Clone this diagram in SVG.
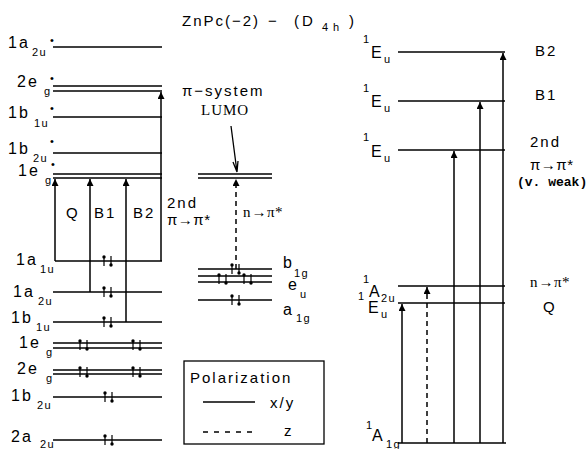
<svg xmlns="http://www.w3.org/2000/svg" width="588" height="449" viewBox="0 0 588 449">
<defs>
<style>
.lv{stroke:#000;stroke-width:1.3;fill:none}
.ar{stroke:#000;stroke-width:1.5;fill:none}
.da{stroke:#000;stroke-width:1.5;fill:none;stroke-dasharray:5 4}
text{font-family:"Liberation Sans","DejaVu Sans",sans-serif;fill:#000}
.m{font-size:16px;letter-spacing:2px}
.s{font-size:11px;letter-spacing:1.5px}
.d{font-size:11px}
.lb{font-size:15px;letter-spacing:2px}
.pp{font-size:15px;letter-spacing:0.5px}
.sf{font-family:"Liberation Serif",serif;font-size:15px;letter-spacing:1px}
.vw{font-family:"Liberation Mono",monospace;font-size:13px;font-weight:bold}
</style>
<marker id="ah" markerWidth="7" markerHeight="7" viewBox="0 0 7 7" refX="7" refY="3.5" orient="auto" markerUnits="userSpaceOnUse">
<path d="M0,0 L7,3.5 L0,7 z" fill="#000"/>
</marker>
<g id="ep">
<path d="M0,5 V-4 M7,-5 V4" stroke="#000" stroke-width="1.2" fill="none"/>
<circle cx="0" cy="-4" r="1.7" fill="#000"/>
<circle cx="7" cy="4" r="1.7" fill="#000"/>
</g>
</defs>
<rect width="588" height="449" fill="#fff"/>

<text y="26" style="font-size:15px"><tspan x="182" style="letter-spacing:2px">ZnPc(−2)</tspan><tspan x="268">−</tspan><tspan x="294" style="letter-spacing:3px">(D</tspan><tspan x="322" y="31" style="font-size:11px;letter-spacing:5px">4h</tspan><tspan x="349" y="26">)</tspan></text>

<g id="L-1a2u-star">
<line class="lv" x1="53" y1="47" x2="162" y2="47"/>
<text x="8" y="48" class="m">1a<tspan class="s" x="32" y="56">2u</tspan><tspan class="d" x="50" y="44">•</tspan></text>
</g>
<g id="L-2eg-star">
<line class="lv" x1="53" y1="86" x2="162" y2="86"/>
<line class="lv" x1="53" y1="91" x2="162" y2="91"/>
<text x="17" y="87" class="m">2e<tspan class="s" x="44" y="95">g</tspan><tspan class="d" x="50" y="82">•</tspan></text>
</g>
<g id="L-1b1u-star">
<line class="lv" x1="53" y1="117" x2="162" y2="117"/>
<text x="8" y="118" class="m">1b<tspan class="s" x="34" y="127">1u</tspan><tspan class="d" x="50" y="112">•</tspan></text>
</g>
<g id="L-1b2u-star">
<line class="lv" x1="53" y1="153" x2="162" y2="153"/>
<text x="8" y="154" class="m">1b<tspan class="s" x="33" y="162">2u</tspan><tspan class="d" x="50" y="145">•</tspan></text>
</g>
<g id="L-1eg-star">
<line class="lv" x1="53" y1="174" x2="162" y2="174"/>
<line class="lv" x1="53" y1="178" x2="162" y2="178"/>
<text x="18" y="176" class="m">1e<tspan class="s" x="45" y="184">g</tspan><tspan class="d" x="51" y="168">•</tspan></text>
</g>
<g id="L-1a1u">
<line class="lv" x1="55" y1="261" x2="162" y2="261"/>
<text x="16" y="265" class="m">1a<tspan class="s" x="40" y="273">1u</tspan></text>
<use href="#ep" x="104" y="261"/>
</g>
<g id="L-1a2u">
<line class="lv" x1="53" y1="292" x2="162" y2="292"/>
<text x="13" y="297" class="m">1a<tspan class="s" x="38" y="305">2u</tspan></text>
<use href="#ep" x="104" y="292"/>
</g>
<g id="L-1b1u">
<line class="lv" x1="53" y1="322" x2="162" y2="322"/>
<text x="11" y="323" class="m">1b<tspan class="s" x="36" y="331">1u</tspan></text>
<use href="#ep" x="104" y="322"/>
</g>
<g id="L-1eg">
<line class="lv" x1="53" y1="343" x2="162" y2="343"/>
<line class="lv" x1="53" y1="348" x2="162" y2="348"/>
<text x="19" y="348" class="m">1e<tspan class="s" x="46" y="356">g</tspan></text>
<use href="#ep" x="80" y="345"/>
<use href="#ep" x="133" y="345"/>
</g>
<g id="L-2eg">
<line class="lv" x1="53" y1="370" x2="162" y2="370"/>
<line class="lv" x1="53" y1="374" x2="162" y2="374"/>
<text x="17" y="374" class="m">2e<tspan class="s" x="46" y="382">g</tspan></text>
<use href="#ep" x="80" y="372"/>
<use href="#ep" x="133" y="372"/>
</g>
<g id="L-1b2u">
<line class="lv" x1="53" y1="397" x2="162" y2="397"/>
<text x="11" y="401" class="m">1b<tspan class="s" x="37" y="409">2u</tspan></text>
<use href="#ep" x="105" y="397"/>
</g>
<g id="L-2a2u">
<line class="lv" x1="53" y1="440" x2="162" y2="440"/>
<text x="11" y="442" class="m">2a<tspan class="s" x="40" y="448">2u</tspan></text>
<use href="#ep" x="105" y="440"/>
</g>

<g id="M-LUMO">
<line class="lv" x1="198" y1="174" x2="272" y2="174"/>
<line class="lv" x1="198" y1="178" x2="272" y2="178"/>
<text x="182" y="96" class="lb">π−system</text>
<text x="201" y="115" class="sf">LUMO</text>
</g>
<g id="M-b1g">
<line class="lv" x1="198" y1="269" x2="272" y2="269"/>
<text x="283" y="268" class="m">b<tspan class="s" x="294" y="277">1g</tspan></text>
<use href="#ep" x="232" y="269"/>
</g>
<g id="M-eu">
<line class="lv" x1="198" y1="276" x2="272" y2="276"/>
<line class="lv" x1="198" y1="282" x2="272" y2="282"/>
<text x="288" y="290" class="m">e<tspan class="s" x="300" y="298">u</tspan></text>
<use href="#ep" x="219" y="279"/>
<use href="#ep" x="244" y="279"/>
</g>
<g id="M-a1g">
<line class="lv" x1="198" y1="300" x2="272" y2="300"/>
<text x="283" y="315" class="m">a<tspan class="s" x="296" y="322">1g</tspan></text>
<use href="#ep" x="232" y="300"/>
</g>

<g id="legend">
<rect x="184" y="361" width="140" height="83" fill="none" stroke="#000" stroke-width="1.3"/>
<text x="190" y="383" class="lb">Polarization</text>
<line class="ar" x1="203" y1="402" x2="255" y2="402"/>
<text x="270" y="408" class="lb">x/y</text>
<line class="lv" x1="203" y1="432" x2="255" y2="432" stroke-dasharray="5 6"/>
<text x="284" y="436" class="lb">z</text>
</g>

<g id="R-B2">
<line class="lv" x1="398" y1="52" x2="505" y2="52"/>
<text x="363" y="43" class="s">1</text>
<text x="371" y="58" class="m">E<tspan class="s" x="384" y="63">u</tspan></text>
<text x="535" y="56" class="lb">B2</text>
</g>
<g id="R-B1">
<line class="lv" x1="398" y1="101" x2="505" y2="101"/>
<text x="363" y="92" class="s">1</text>
<text x="371" y="107" class="m">E<tspan class="s" x="384" y="112">u</tspan></text>
<text x="535" y="100" class="lb">B1</text>
</g>
<g id="R-2nd">
<line class="lv" x1="398" y1="150" x2="505" y2="150"/>
<text x="363" y="141" class="s">1</text>
<text x="371" y="157" class="m">E<tspan class="s" x="384" y="162">u</tspan></text>
<text x="530" y="147" class="lb">2nd</text>
<text x="530" y="170" class="pp">π→π*</text>
<text x="517" y="186" class="vw">(v. weak)</text>
</g>
<g id="R-A2u">
<line class="lv" x1="398" y1="286" x2="505" y2="286"/>
<text x="363" y="283" class="s">1</text>
<text x="369" y="297" class="m">A<tspan class="s" x="381" y="302">2u</tspan></text>
<text x="530" y="287" class="sf">n<tspan class="pp">→π*</tspan></text>
</g>
<g id="R-Q">
<line class="lv" x1="398" y1="303" x2="505" y2="303"/>
<text x="358" y="300" class="s">1</text>
<text x="368" y="313" class="m">E<tspan class="s" x="381" y="318">u</tspan></text>
<text x="543" y="312" class="lb">Q</text>
</g>
<g id="R-A1g">
<line class="lv" x1="398" y1="443" x2="506" y2="443"/>
<text x="366" y="429" class="s">1</text>
<text x="372" y="441" class="m">A<tspan class="s" x="386" y="448">1g</tspan></text>
</g>

<g id="left-labels">
<text x="66" y="218" class="lb">Q</text>
<text x="94" y="218" class="lb">B1</text>
<text x="133" y="218" class="lb">B2</text>
<text x="167" y="208" class="lb">2nd</text>
<text x="167" y="225" class="pp">π→π*</text>
<text x="243" y="217" class="sf">n<tspan class="pp">→π*</tspan></text>
</g>

<g id="connectors">
<line class="ar" x1="55" y1="261" x2="55" y2="179" marker-end="url(#ah)"/>
<line class="ar" x1="90" y1="292" x2="90" y2="179" marker-end="url(#ah)"/>
<line class="ar" x1="126" y1="322" x2="126" y2="179" marker-end="url(#ah)"/>
<line class="ar" x1="161" y1="261" x2="161" y2="92" marker-end="url(#ah)"/>
<line class="da" x1="236" y1="269" x2="236" y2="179" marker-end="url(#ah)"/>
<path d="M231,126 L237,172 M233,162 L237,172 L238,161" class="lv" stroke-width="1"/>
<line class="ar" x1="402" y1="443" x2="402" y2="304" marker-end="url(#ah)"/>
<line class="da" x1="427" y1="443" x2="427" y2="287" marker-end="url(#ah)"/>
<line class="ar" x1="454" y1="443" x2="454" y2="151" marker-end="url(#ah)"/>
<line class="ar" x1="480" y1="443" x2="480" y2="102" marker-end="url(#ah)"/>
<line class="ar" x1="503" y1="443" x2="503" y2="53" marker-end="url(#ah)"/>
</g>
</svg>
